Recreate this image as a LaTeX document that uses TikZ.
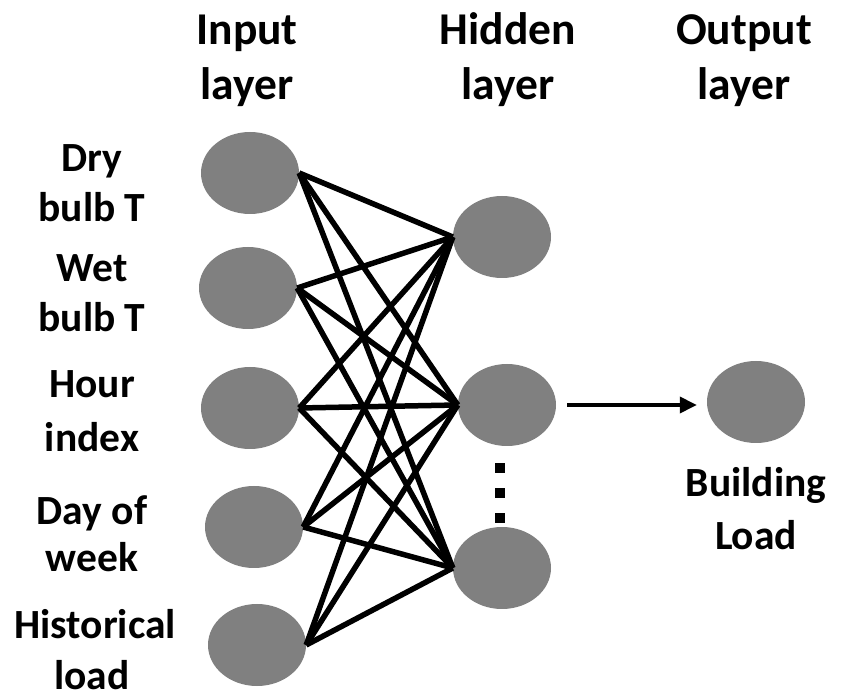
\documentclass[tikz,border=0pt]{standalone}
\usepackage{fontspec}
\setmainfont{Carlito}
\usetikzlibrary{shapes.geometric,arrows.meta}
\definecolor{neuron}{RGB}{128,128,128}
\tikzset{
  neuronnode/.style={ellipse,fill=neuron,minimum width=98pt,minimum height=82pt,inner sep=0pt},
  headtext/.style={anchor=base,font=\bfseries\fontsize{45.5}{54}\selectfont,inner sep=0pt},
  labtext/.style={anchor=base,font=\bfseries\fontsize{41.5}{48}\selectfont,inner sep=0pt},
  weight/.style={line width=5.5pt},
  flow/.style={line width=3.6pt,-{Triangle[length=17pt,width=16pt]}},
  dotbox/.style={rectangle,fill=black,minimum size=10pt,inner sep=0pt}
}
\begin{document}
\begin{tikzpicture}[x=1pt,y=-1pt]
\useasboundingbox (0,0) rectangle (847,700);

% layer titles
\node[headtext] (tIn1)  at (247,45)  {Input};
\node[headtext] (tIn2)  at (247,100) {layer};
\node[headtext] (tHid1) at (508,45)  {Hidden};
\node[headtext] (tHid2) at (508,100) {layer};
\node[headtext] (tOut1) at (744,45)  {Output};
\node[headtext] (tOut2) at (744,100) {layer};

% input variable names
\node[labtext] (lDry1)  at (92,172) {Dry};
\node[labtext] (lDry2)  at (92,222) {bulb T};
\node[labtext] (lWet1)  at (92,282) {Wet};
\node[labtext] (lWet2)  at (92,332) {bulb T};
\node[labtext] (lHour1) at (92,398) {Hour};
\node[labtext] (lHour2) at (92,452) {index};
\node[labtext] (lDay1)  at (92,525) {Day of};
\node[labtext] (lDay2)  at (92,572) {week};
\node[labtext] (lHist1) at (95,639) {Historical};
\node[labtext] (lHist2) at (92,689) {load};
\node[labtext] (lBld1)  at (756,497) {Building};
\node[labtext] (lBld2)  at (756,550) {Load};

% neurons
\node[neuronnode] (i1) at (250,173) {};
\node[neuronnode] (i2) at (248,288) {};
\node[neuronnode] (i3) at (250,408) {};
\node[neuronnode] (i4) at (254,527) {};
\node[neuronnode] (i5) at (257,645) {};
\node[neuronnode] (h1) at (502,237) {};
\node[neuronnode] (h2) at (507,405) {};
\node[neuronnode] (h3) at (502,568) {};
\node[neuronnode] (o1) at (756,402) {};

% full connections input -> hidden
\foreach \a in {1,...,5}
  \foreach \b in {1,2,3}
    \draw[weight] (i\a.east) -- (h\b.west);

% ellipsis between hidden neurons
\node[dotbox] (d1) at (500,468) {};
\node[dotbox] (d2) at (500,493) {};
\node[dotbox] (d3) at (500,518) {};

% hidden -> output
\draw[flow,shorten <=11pt,shorten >=10pt] (h2.east) -- (h2.east -| o1.west);
\end{tikzpicture}
\end{document}
